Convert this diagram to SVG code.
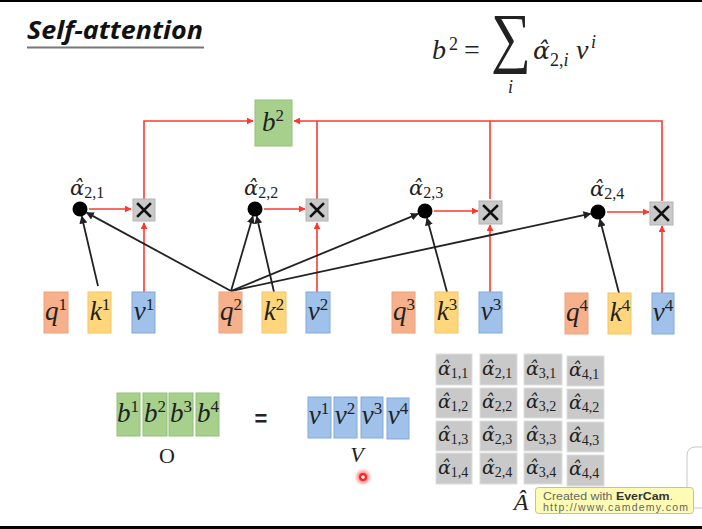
<svg xmlns="http://www.w3.org/2000/svg" width="702" height="529" viewBox="0 0 702 529">
<style>
.red{stroke:#fb3a2e;stroke-width:1.6;fill:none}
.blk{stroke:#222;stroke-width:1.8;fill:none}
.q{fill:#f6b18c;stroke:#eea27c;stroke-width:1}
.k{fill:#ffd67c;stroke:#f4c466;stroke-width:1}
.v{fill:#9fc1ea;stroke:#84aadb;stroke-width:1}
.g{fill:#a8d08d;stroke:#93c07a;stroke-width:1}
.mul{fill:#c9c9c9;stroke:#b4b4b4;stroke-width:1}
.cell{fill:#c9c9c9;stroke:#dedede;stroke-width:1}
.m{font-family:"Liberation Serif","DejaVu Serif",serif;fill:#222}
.al{font-family:"DejaVu Serif",serif;font-style:italic;fill:#222}
.it{font-style:italic}
.var{font-family:"Liberation Serif","DejaVu Serif",serif;font-style:italic;font-size:27px;fill:#222}
.sup{font-style:normal;font-size:17px}
.sub{font-family:"Liberation Serif",serif;font-style:normal;font-size:16px}
.sub14{font-family:"Liberation Serif",serif;font-style:normal;font-size:14px}
.x{stroke:#111;stroke-width:2.6;stroke-linecap:square}
.dot{fill:#000}
</style>
<defs>
<marker id="ar" viewBox="0 0 10 10" refX="9" refY="5" markerWidth="7" markerHeight="7" markerUnits="userSpaceOnUse" orient="auto"><path d="M0,0 L10,5 L0,10 z" fill="#fb3a2e"/></marker>
<marker id="ab" viewBox="0 0 10 10" refX="9" refY="5" markerWidth="8" markerHeight="8" markerUnits="userSpaceOnUse" orient="auto"><path d="M0,0 L10,5 L0,10 z" fill="#222"/></marker>
<radialGradient id="glow"><stop offset="0" stop-color="#ff2020" stop-opacity="0.9"/><stop offset="0.5" stop-color="#ff3030" stop-opacity="0.5"/><stop offset="1" stop-color="#ff6060" stop-opacity="0"/></radialGradient>
</defs>
<rect width="702" height="529" fill="#fff"/>
<rect x="0" y="0" width="702" height="2" fill="#000"/>
<rect x="0" y="526" width="702" height="3" fill="#000"/>

<g id="title">
<text x="27" y="39" font-family="'Open Sans','Liberation Sans',sans-serif" font-weight="bold" font-style="italic" font-size="25" fill="#111" textLength="176" lengthAdjust="spacingAndGlyphs">Self-attention</text>
<line x1="27" y1="47.5" x2="204" y2="47.5" stroke="#777" stroke-width="2"/>
</g>

<g id="formula" class="m">
<text x="432" y="59" font-size="28" class="it">b</text>
<text x="449" y="50" font-size="18">2</text>
<text x="464" y="59" font-size="28">=</text>
<text transform="translate(491,60) scale(1,1.2)" font-size="56">∑</text>
<text x="508" y="93" font-size="18" class="it">i</text>
<text class="al" x="533" y="59" font-size="25">α̂</text>
<text x="550" y="66" font-size="18">2,<tspan class="it">i</tspan></text>
<text x="576" y="59" font-size="28" class="it">v</text>
<text x="591" y="48" font-size="18" class="it">i</text>
</g>

<g id="connectors">
<path class="red" d="M144,199 V121 H253" marker-end="url(#ar)"/>
<path class="red" d="M662,201 V121 H294" marker-end="url(#ar)"/>
<path class="red" d="M317,199 V121"/>
<path class="red" d="M490,199 V121"/>
<path class="red" d="M89,209 H131" marker-end="url(#ar)"/>
<path class="red" d="M264,209 H305" marker-end="url(#ar)"/>
<path class="red" d="M434,211 H478" marker-end="url(#ar)"/>
<path class="red" d="M607,212 H649" marker-end="url(#ar)"/>
<path class="red" d="M144,292 V223" marker-end="url(#ar)"/>
<path class="red" d="M317,292 V223" marker-end="url(#ar)"/>
<path class="red" d="M490,292 V225" marker-end="url(#ar)"/>
<path class="red" d="M662,293 V226" marker-end="url(#ar)"/>
<path class="blk" d="M98,286 L81.7,216.3" marker-end="url(#ab)"/>
<path class="blk" d="M231,291 L86.6,212.6" marker-end="url(#ab)"/>
<path class="blk" d="M231,291 L252.9,216.2" marker-end="url(#ab)"/>
<path class="blk" d="M274,292 L256.7,216.3" marker-end="url(#ab)"/>
<path class="blk" d="M231,291 L418.1,213.9" marker-end="url(#ab)"/>
<path class="blk" d="M447,292 L427,218.2" marker-end="url(#ab)"/>
<path class="blk" d="M231,291 L590.7,213.6" marker-end="url(#ab)"/>
<path class="blk" d="M619,293 L599.9,219.3" marker-end="url(#ab)"/>
</g>

<g id="b2">
<rect class="g" x="255" y="100" width="37" height="46"/>
<text class="var" x="273" y="131" text-anchor="middle">b<tspan class="sup" dy="-10">2</tspan></text>
</g>

<g id="mul1"><rect class="mul" x="133" y="199" width="22" height="22"/><path class="x" d="M138,204 L150,216 M150,204 L138,216"/></g>
<g id="mul2"><rect class="mul" x="306" y="199" width="22" height="22"/><path class="x" d="M311,204 L323,216 M323,204 L311,216"/></g>
<g id="mul3"><rect class="mul" x="479" y="201" width="23" height="23"/><path class="x" d="M484,206 L497,219 M497,206 L484,219"/></g>
<g id="mul4"><rect class="mul" x="650" y="202" width="23" height="23"/><path class="x" d="M655,207 L668,220 M668,207 L655,220"/></g>

<g id="a21"><circle class="dot" cx="80" cy="209" r="7.5"/><text class="al" x="70" y="195" font-size="21">α̂<tspan class="sub" dy="3">2,1</tspan></text></g>
<g id="a22"><circle class="dot" cx="255" cy="209" r="7.5"/><text class="al" x="244" y="195" font-size="21">α̂<tspan class="sub" dy="3">2,2</tspan></text></g>
<g id="a23"><circle class="dot" cx="425" cy="211" r="7.5"/><text class="al" x="409" y="195" font-size="21">α̂<tspan class="sub" dy="3">2,3</tspan></text></g>
<g id="a24"><circle class="dot" cx="598" cy="212" r="7.5"/><text class="al" x="590" y="196" font-size="21">α̂<tspan class="sub" dy="3">2,4</tspan></text></g>

<g id="q1"><rect class="q" x="44" y="292" width="24" height="41"/><text class="var" x="56" y="320" text-anchor="middle">q<tspan class="sup" dy="-10">1</tspan></text></g>
<g id="k1"><rect class="k" x="88" y="292" width="23" height="41"/><text class="var" x="100" y="320" text-anchor="middle">k<tspan class="sup" dy="-10">1</tspan></text></g>
<g id="v1"><rect class="v" x="132" y="292" width="23" height="41"/><text class="var" x="144" y="320" text-anchor="middle">v<tspan class="sup" dy="-10">1</tspan></text></g>
<g id="q2"><rect class="q" x="219" y="292" width="23" height="41"/><text class="var" x="231" y="320" text-anchor="middle">q<tspan class="sup" dy="-10">2</tspan></text></g>
<g id="k2"><rect class="k" x="262" y="292" width="24" height="41"/><text class="var" x="274" y="320" text-anchor="middle">k<tspan class="sup" dy="-10">2</tspan></text></g>
<g id="v2"><rect class="v" x="306" y="292" width="24" height="41"/><text class="var" x="318" y="320" text-anchor="middle">v<tspan class="sup" dy="-10">2</tspan></text></g>
<g id="q3"><rect class="q" x="392" y="292" width="23" height="41"/><text class="var" x="404" y="320" text-anchor="middle">q<tspan class="sup" dy="-10">3</tspan></text></g>
<g id="k3"><rect class="k" x="435" y="292" width="23" height="41"/><text class="var" x="447" y="320" text-anchor="middle">k<tspan class="sup" dy="-10">3</tspan></text></g>
<g id="v3"><rect class="v" x="479" y="292" width="23" height="41"/><text class="var" x="491" y="320" text-anchor="middle">v<tspan class="sup" dy="-10">3</tspan></text></g>
<g id="q4"><rect class="q" x="565" y="293" width="23" height="41"/><text class="var" x="577" y="321" text-anchor="middle">q<tspan class="sup" dy="-10">4</tspan></text></g>
<g id="k4"><rect class="k" x="608" y="293" width="23" height="41"/><text class="var" x="620" y="321" text-anchor="middle">k<tspan class="sup" dy="-10">4</tspan></text></g>
<g id="v4"><rect class="v" x="652" y="293" width="22" height="41"/><text class="var" x="663" y="321" text-anchor="middle">v<tspan class="sup" dy="-10">4</tspan></text></g>

<g id="O">
<rect class="g" x="117" y="393" width="23" height="43"/>
<rect class="g" x="143" y="393" width="24" height="43"/>
<rect class="g" x="169" y="393" width="24" height="43"/>
<rect class="g" x="196" y="393" width="23" height="43"/>
<text class="var" x="128" y="422" text-anchor="middle">b<tspan class="sup" dy="-10">1</tspan></text>
<text class="var" x="155" y="422" text-anchor="middle">b<tspan class="sup" dy="-10">2</tspan></text>
<text class="var" x="181" y="422" text-anchor="middle">b<tspan class="sup" dy="-10">3</tspan></text>
<text class="var" x="208" y="422" text-anchor="middle">b<tspan class="sup" dy="-10">4</tspan></text>
<text class="m" x="167" y="463" font-size="22" text-anchor="middle">O</text>
</g>

<g id="eq"><text x="261" y="426" font-family="'Liberation Sans',sans-serif" font-weight="bold" font-size="22" fill="#222" text-anchor="middle">=</text></g>

<g id="V">
<rect class="v" x="308" y="397" width="23" height="41"/>
<rect class="v" x="334" y="397" width="23" height="41"/>
<rect class="v" x="361" y="397" width="22" height="41"/>
<rect class="v" x="387" y="398" width="22" height="41"/>
<text class="var" x="319" y="424" text-anchor="middle">v<tspan class="sup" dy="-10">1</tspan></text>
<text class="var" x="345" y="424" text-anchor="middle">v<tspan class="sup" dy="-10">2</tspan></text>
<text class="var" x="372" y="424" text-anchor="middle">v<tspan class="sup" dy="-10">3</tspan></text>
<text class="var" x="398" y="424" text-anchor="middle">v<tspan class="sup" dy="-10">4</tspan></text>
<text class="m it" x="357" y="462" font-size="22" text-anchor="middle">V</text>
</g>

<g id="A">
<rect class="cell" x="436" y="354" width="36" height="31"/><rect class="cell" x="480" y="354" width="37" height="31"/><rect class="cell" x="524" y="354" width="38" height="31"/><rect class="cell" x="567" y="356" width="37" height="30"/>
<rect class="cell" x="436" y="388" width="36" height="30"/><rect class="cell" x="480" y="388" width="37" height="30"/><rect class="cell" x="524" y="388" width="38" height="30"/><rect class="cell" x="567" y="389" width="37" height="30"/>
<rect class="cell" x="436" y="421" width="36" height="30"/><rect class="cell" x="480" y="421" width="37" height="30"/><rect class="cell" x="524" y="421" width="38" height="30"/><rect class="cell" x="567" y="422" width="37" height="30"/>
<rect class="cell" x="436" y="453" width="36" height="31"/><rect class="cell" x="480" y="453" width="37" height="31"/><rect class="cell" x="524" y="453" width="38" height="31"/><rect class="cell" x="567" y="455" width="37" height="31"/>
<g class="al" font-size="19">
<text x="438" y="375">α̂<tspan class="sub14" dy="3">1,1</tspan></text>
<text x="482" y="375">α̂<tspan class="sub14" dy="3">2,1</tspan></text>
<text x="526" y="375">α̂<tspan class="sub14" dy="3">3,1</tspan></text>
<text x="569" y="376">α̂<tspan class="sub14" dy="3">4,1</tspan></text>
<text x="438" y="408">α̂<tspan class="sub14" dy="3">1,2</tspan></text>
<text x="482" y="408">α̂<tspan class="sub14" dy="3">2,2</tspan></text>
<text x="526" y="408">α̂<tspan class="sub14" dy="3">3,2</tspan></text>
<text x="569" y="409">α̂<tspan class="sub14" dy="3">4,2</tspan></text>
<text x="438" y="441">α̂<tspan class="sub14" dy="3">1,3</tspan></text>
<text x="482" y="441">α̂<tspan class="sub14" dy="3">2,3</tspan></text>
<text x="526" y="441">α̂<tspan class="sub14" dy="3">3,3</tspan></text>
<text x="569" y="442">α̂<tspan class="sub14" dy="3">4,3</tspan></text>
<text x="438" y="474">α̂<tspan class="sub14" dy="3">1,4</tspan></text>
<text x="482" y="474">α̂<tspan class="sub14" dy="3">2,4</tspan></text>
<text x="526" y="474">α̂<tspan class="sub14" dy="3">3,4</tspan></text>
<text x="569" y="475">α̂<tspan class="sub14" dy="3">4,4</tspan></text>
</g>
<text class="m it" x="521" y="510" font-size="24" text-anchor="middle">Â</text>
</g>

<g id="pointer">
<circle cx="363" cy="477" r="9" fill="url(#glow)"/>
<circle cx="363" cy="477" r="4" fill="#f22"/>
<circle cx="363" cy="477" r="1.8" fill="#fff"/>
</g>

<g id="watermark">
<rect x="687" y="447" width="30" height="61" rx="8" fill="#fff" stroke="#c8c8c8"/>
<rect x="535.5" y="487.5" width="158" height="26" rx="3" fill="#fdfbb4" stroke="#cfc56e"/>
<text x="543" y="500" font-family="'Liberation Sans',sans-serif" font-size="10.5" fill="#666" textLength="130" lengthAdjust="spacingAndGlyphs">Created with <tspan font-weight="bold" fill="#333">EverCam</tspan>.</text>
<text x="543" y="510.5" font-family="'Liberation Sans',sans-serif" font-size="10.5" fill="#666" textLength="145" lengthAdjust="spacing">http://www.camdemy.com</text>
</g>
</svg>
